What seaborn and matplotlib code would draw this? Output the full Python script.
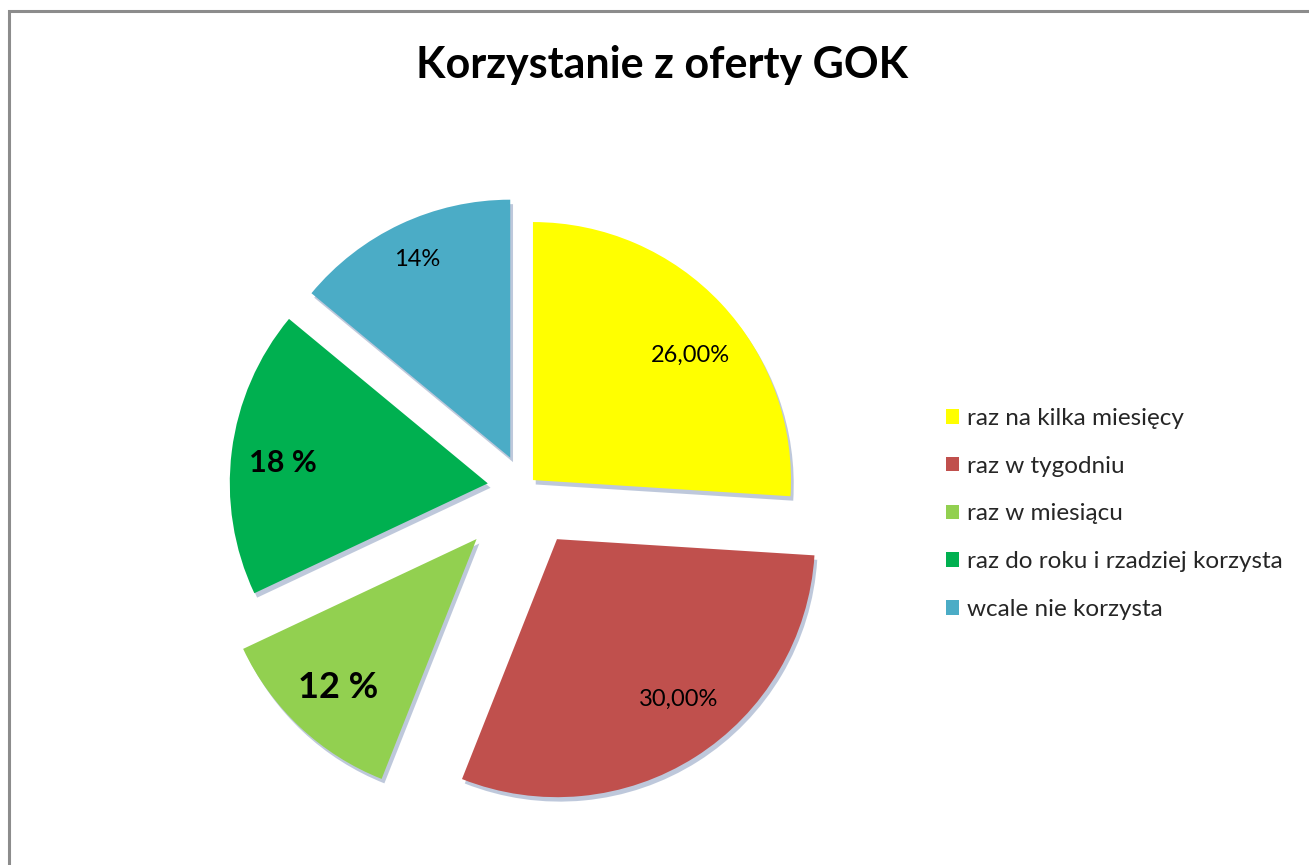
import matplotlib
matplotlib.use("Agg")
import matplotlib.pyplot as plt
import seaborn as sns
from matplotlib.patches import Rectangle

# data
categories = ["raz na kilka miesięcy", "raz w tygodniu", "raz w miesiącu",
              "raz do roku i rzadziej korzysta", "wcale nie korzysta"]
shares = [26, 30, 12, 18, 14]
pct_labels = ["26,00%", "30,00%", "12 %", "18 %", "14%"]

colors = ["#FFFF00", "#C0504D", "#92D050", "#00B050", "#4BACC6"]
explode = [11.6, 60.6, 70, 37, 33.5]   # in pixels (axes use pixel units)
label_size = [17, 17, 26, 22, 17]
label_bold = [False, False, True, True, False]
# label centres as placed in the original (pixels from top-left)
label_pos = [(690, 355), (679, 699), (338, 687), (283, 463), (417, 260)]

sns.set_theme(style="white")
plt.rcParams["font.family"] = ["Lato", "DejaVu Sans"]

W, H = 1309, 865
fig = plt.figure(figsize=(W / 100, H / 100), dpi=100)
ax = fig.add_axes([0, 0, 1, 1])

wedges, texts, autotexts = ax.pie(
    shares, colors=colors, explode=explode, startangle=90, counterclock=False,
    center=(524.5, H - 488), radius=258, autopct="%1.0f", pctdistance=0.79,
    shadow={"ox": 2.0, "oy": -3.2, "facecolor": "#7f93b8", "alpha": 0.5},
    wedgeprops=dict(linewidth=0), frame=True)
ax.set_xlim(0, W)
ax.set_ylim(0, H)
ax.set_aspect("equal")
ax.axis("off")

for t, lab, s, b, (px, py) in zip(autotexts, pct_labels, label_size, label_bold, label_pos):
    t.set_text(lab)
    t.set_fontsize(s)
    t.set_color("black")
    t.set_fontweight("bold" if b else "normal")
    t.set_position((px, H - py))

fig.text(0.506, 1 - 65 / H, "Korzystanie z oferty GOK", ha="center", va="center",
         fontsize=31, fontweight="bold", color="black")

fig.legend(wedges, categories, loc="center left",
           bbox_to_anchor=(946 / W, 1 - 514 / H), frameon=False,
           fontsize=17.5, handlelength=0.55, handleheight=0.55, handletextpad=0.3,
           labelspacing=1.1, borderaxespad=0, borderpad=0)

fig.patches.append(Rectangle((8.5 / W, -0.1), 1.2, 1.1 - 11.5 / H,
                             transform=fig.transFigure, fill=False,
                             edgecolor="#8c8c8c", linewidth=2.2))

fig.savefig("out.png", dpi=100, facecolor="white")
